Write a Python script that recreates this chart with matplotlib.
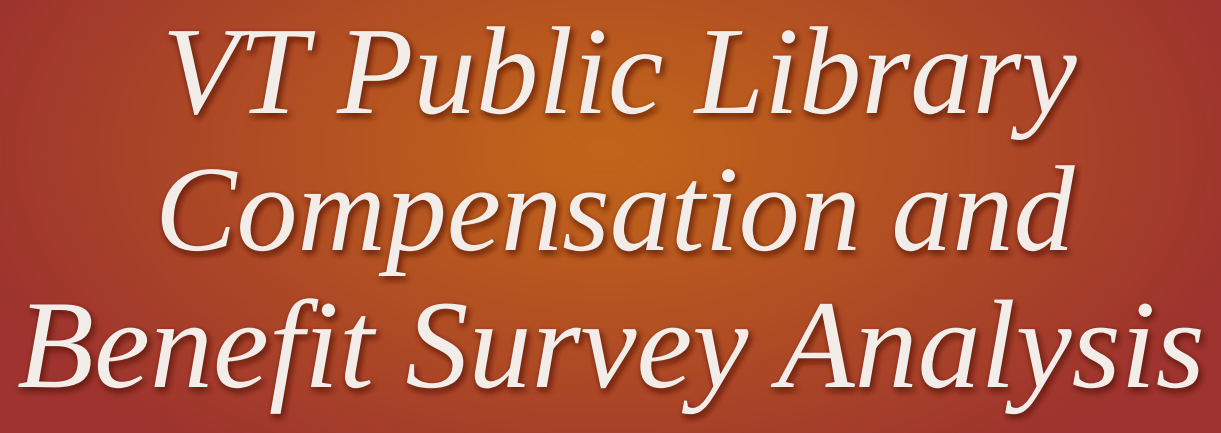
import numpy as np
import matplotlib
matplotlib.use("Agg")
import matplotlib.pyplot as plt
import matplotlib.patheffects as pe
from matplotlib.colors import to_rgb

# Text content
title_lines = ["VT Public Library", "Compensation and", "Benefit Survey Analysis"]
# layout (pixel coords): left x, baseline y, target width
line_left = [162, 155, 17]
line_base = [113, 250, 387]
line_width = [915, 920, 1188]

W, H = 1221, 433
fig = plt.figure(figsize=(W / 100, H / 100), dpi=100)
ax = fig.add_axes([0, 0, 1, 1])
ax.set_xlim(0, W)
ax.set_ylim(H, 0)
ax.axis("off")

# radial gradient background
center_col = np.array(to_rgb("#C2661A"))
edge_col = np.array(to_rgb("#9E332F"))
yy, xx = np.mgrid[0:H, 0:W]
cx, cy, rx, ry = 605, 150, 660, 380
d = np.sqrt(((xx - cx) / rx) ** 2 + ((yy - cy) / ry) ** 2)
t = np.clip(d, 0, 1) ** 1.1
img = center_col[None, None, :] * (1 - t[..., None]) + edge_col[None, None, :] * t[..., None]
ax.imshow(img, extent=[0, W, H, 0], aspect="auto", interpolation="bilinear")
ax.set_xlim(0, W)
ax.set_ylim(H, 0)

fig.canvas.draw()
renderer = fig.canvas.get_renderer()
fx = dict(family="Liberation Serif", style="italic", color="#F2EDE8")

# soft blurred shadow built from several faint offset copies
effects = []
for r in (4.5, 3.0, 1.5):
    for ang in np.linspace(0, 2 * np.pi, 10, endpoint=False):
        ox = 1.5 + r * np.cos(ang)
        oy = -2.5 + r * np.sin(ang)
        effects.append(pe.SimplePatchShadow(offset=(ox, oy), shadow_rgbFace="#5a1a10", alpha=0.035))
effects.append(pe.Normal())

for txt, x0, yb, tw in zip(title_lines, line_left, line_base, line_width):
    t_ = ax.text(x0, yb, txt, fontsize=100, ha="left", va="baseline", **fx)
    bb = t_.get_window_extent(renderer)
    size = 100 * tw / bb.width
    t_.set_fontsize(size)
    t_.set_path_effects(effects)

fig.savefig("out.png", dpi=100)
